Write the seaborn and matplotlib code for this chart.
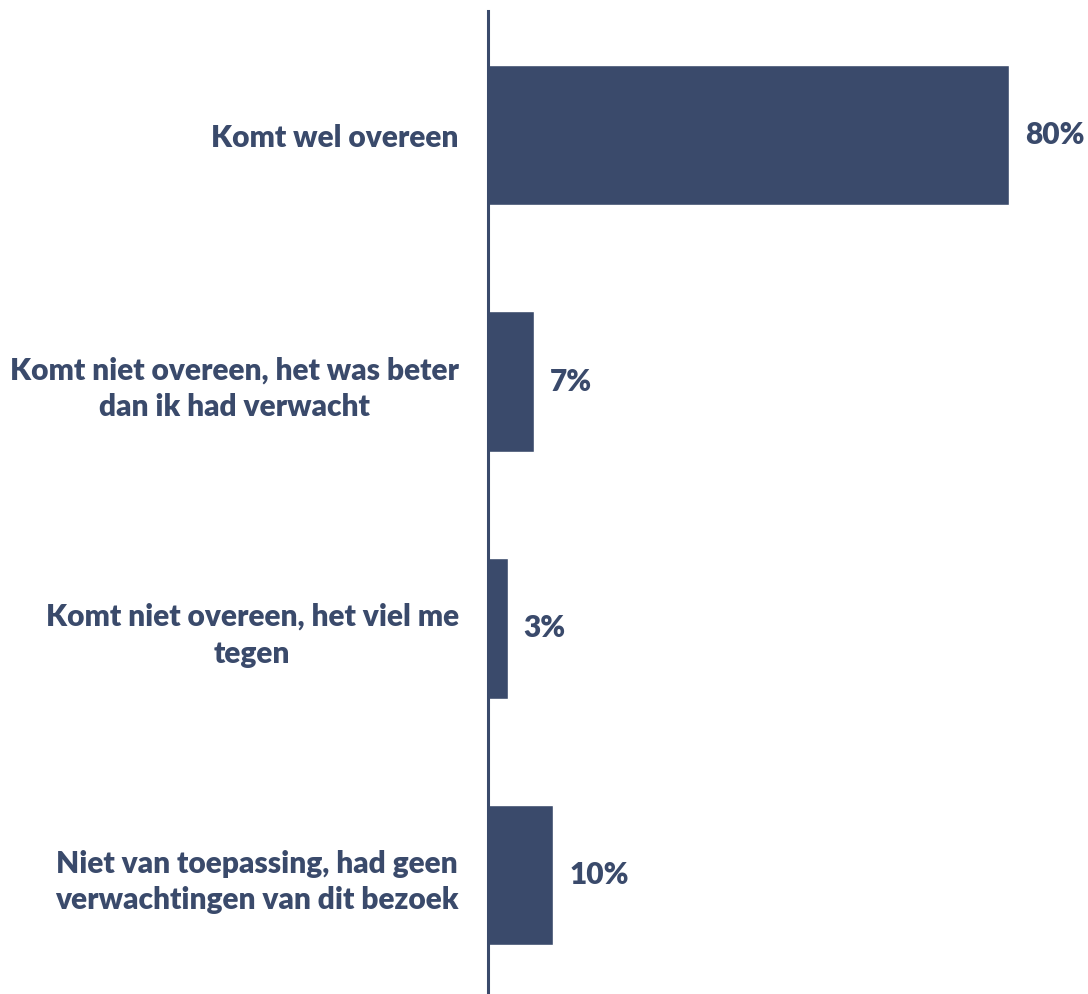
import matplotlib
matplotlib.use("Agg")
import matplotlib.pyplot as plt
import seaborn as sns
import pandas as pd

categories = [
    "Komt wel overeen",
    "Komt niet overeen, het was beter\ndan ik had verwacht",
    "Komt niet overeen, het viel me\ntegen",
    "Niet van toepassing, had geen\nverwachtingen van dit bezoek",
]
values = [80, 7, 3, 10]
value_labels = ["80%", "7%", "3%", "10%"]

NAVY = "#3a4a6b"

sns.set_theme(style="white")
plt.rcParams["font.family"] = ["Lato", "DejaVu Sans"]

df = pd.DataFrame({"categorie": categories, "waarde": values})

fig = plt.figure(figsize=(10.88, 9.94), dpi=100)
ax = fig.add_axes([488 / 1088, 0.0, 600 / 1088, 983 / 994])

sns.barplot(data=df, x="waarde", y="categorie", orient="h", color=NAVY,
            saturation=1, width=0.57, ax=ax)

ax.set_xlim(0, 600 / 6.51)
ax.set_ylim(3.482, -0.503)
ax.set_xlabel("")
ax.set_ylabel("")
ax.set_xticks([])
for side in ["top", "right", "bottom"]:
    ax.spines[side].set_visible(False)
ax.spines["left"].set_color(NAVY)
ax.spines["left"].set_linewidth(2.2)

ax.set_yticks(range(len(categories)))
ax.set_yticklabels(categories, fontsize=21.5, fontweight="heavy", color=NAVY,
                   multialignment="center", linespacing=1.38)
ax.tick_params(axis="y", length=0, pad=21)

for i, (v, lab) in enumerate(zip(values, value_labels)):
    ax.annotate(lab, xy=(v, i), xytext=(16, 0), textcoords="offset pixels",
                ha="left", va="center", fontsize=21.5, fontweight="heavy",
                color=NAVY)

fig.savefig("out.png", dpi=100, facecolor="white")
